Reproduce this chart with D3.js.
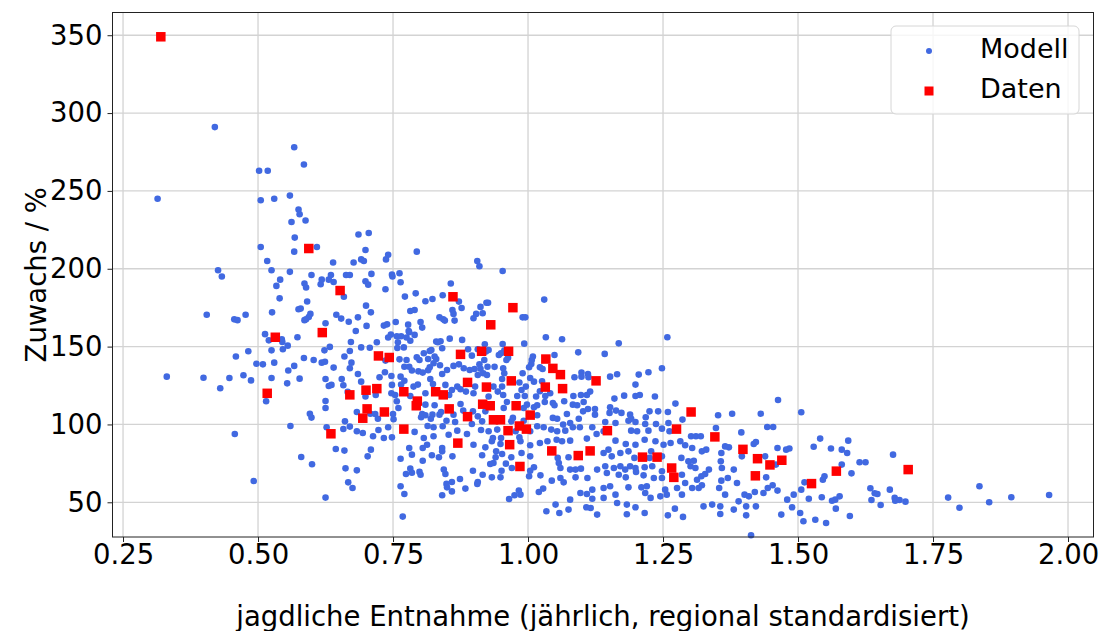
<!DOCTYPE html>
<html>
<head>
<meta charset="utf-8">
<script src="https://cdn.jsdelivr.net/npm/d3@7"></script>
<style>
  html, body { margin: 0; padding: 0; background: #ffffff; }
  svg { display: block; }
  text { font-family: "DejaVu Sans", sans-serif; fill: #000; }
</style>
</head>
<body>
<svg id="chart" width="1101" height="631"></svg>
<script>
// Model simulation: [harvest (standardised), growth %]
const modell = [
  [0.420,291],[0.567,278],[0.585,267],[0.502,263],[0.518,263],[0.314,245],[0.505,244],[0.530,245],[0.559,247],[0.575,238],[0.577,235],[0.562,230],[0.588,231],[0.568,220],[0.505,214],[0.567,211],[0.609,214],
  [0.686,222],[0.705,223],[0.699,212],[0.741,209],[0.794,211],[0.691,206],[0.696,205],[0.737,206],[0.906,205],
  [0.517,205],[0.639,204],[0.677,204],[0.426,199],[0.433,195],[0.525,199],[0.559,198],[0.541,193],[0.599,196],[0.618,193],[0.616,190],[0.631,193],[0.635,196],[0.640,191.5],[0.663,196],[0.670,196],[0.534,189],[0.586,190.5],[0.589,188],[0.659,182],[0.540,181],[0.591,179],[0.575,174],[0.579,174.4],[0.526,172],[0.405,170.5],[0.456,167.5],[0.462,167],[0.477,170.5],[0.597,171],[0.594,169],[0.589,167.5],[0.586,167],[0.645,170.5],[0.654,168],[0.625,165],[0.668,166],[0.681,160],[0.513,158],[0.520,154],[0.544,154.7],[0.545,153],[0.555,150.6],[0.546,148.3],[0.573,156],[0.672,153],[0.633,149.8],[0.623,147.6],[0.670,147.2],[0.525,147.6],[0.482,147],[0.459,143.6],[0.585,142.7],[0.603,141.4],[0.618,139.7],[0.624,140.3],[0.660,143.6],[0.673,139.7],[0.497,139],[0.509,138.6],[0.530,139.7],[0.567,137.6],[0.556,134.6],[0.640,136.5],[0.670,136.1],[0.331,130.7],[0.399,130],[0.447,129.8],[0.473,131.6],[0.487,128.3],[0.525,129.8],[0.577,129.4],[0.625,129.2],[0.655,129.2],[0.554,126.4],[0.636,125.4],[0.631,124.7],[0.658,125.2],[0.430,123.2],[0.666,120.9],
  [0.515,114.9],[0.625,115.1],[0.625,110.6],[0.596,106.9],[0.599,104.4],[0.560,99],[0.627,98.2],[0.661,102],[0.658,97.1],[0.670,98.6],[0.683,95.6],[0.683,108],[0.457,93.9],[0.644,84.2],[0.660,83.2],[0.580,79.1],[0.600,74.4],[0.662,71.8],[0.683,70.5],[0.492,63.7],[0.667,62.8],[0.675,59.2],[0.625,53],
  [0.910,201.6],[0.710,196.7],[0.748,196.2],[0.749,195],[0.762,197.1],[0.764,191.3],[0.699,192],[0.704,189.8],[0.953,198.6],[0.857,190.5],[0.736,186.8],[0.772,182.1],[0.792,184.2],[0.842,183],[0.872,178.9],[0.877,174.8],[0.810,179.1],[0.823,180.6],[0.700,176.3],[0.709,172],[0.685,168.8],[0.782,172.9],[0.790,173.5],[0.860,173.5],[0.862,171],[0.864,166.7],[0.836,168.8],[0.843,167.5],[0.846,166.7],[0.923,178.2],[0.926,178.2],[0.912,175.5],[0.904,171],[0.916,171.4],[0.899,168.2],[0.990,168.8],[0.995,168.8],[1.030,180.2],[0.755,165.8],[0.739,164.3],[0.733,163.5],[0.701,163.3],[0.778,164.1],[0.801,165.8],[0.804,162.2],[0.779,160],[0.780,159.2],[0.746,157.7],[0.741,155.8],[0.757,156.6],[0.765,156.6],[0.775,155.8],[0.790,157.5],[0.759,152.8],[0.720,152.8],[0.782,153.8],[0.830,153.2],[0.838,153.4],[0.833,152.8],[0.855,155.1],[0.878,154.3],[0.920,151.5],[0.953,151.7],[0.993,151.9],[1.033,156],[1.063,154.7],[0.691,149.5],[0.707,149.3],[0.758,149.1],[0.770,149.5],[0.818,147.2],[0.841,148.9],[0.889,148.3],[0.907,148.3],[0.927,147.8],[0.950,145.7],[0.956,147.4],[1.093,146.3],
  [0.736,141],[0.775,141.4],[0.762,141.8],[0.794,143.1],[0.799,141.4],[0.807,145.7],[0.815,142],[0.827,143.6],[0.830,142],[0.821,147.8],[0.896,144.2],[0.919,141.4],[0.922,146.8],[0.960,141.4],[0.963,142.9],[0.946,144.6],[1.009,143.6],[1.007,141.4],[1.049,144.6],[1.006,138.8],[1.002,136.7],[1.022,136.7],[1.027,135.6],[1.099,133.3],[1.111,132.4],[1.086,130.3],[1.099,130.7],[1.112,130.3],[0.771,137.1],[0.780,137.1],[0.785,134.6],[0.797,134.1],[0.805,133.3],[0.815,134.8],[0.818,136.7],[0.825,139.3],[0.837,138],[0.850,135],[0.841,132.4],[0.862,137.6],[0.872,138.6],[0.881,136.1],[0.892,135],[0.901,135.6],[0.910,138.6],[0.925,137.1],[0.938,137],[0.912,135.8],[0.917,132.9],[0.907,131.8],[0.924,131.8],[0.954,136.1],[0.956,132.9],[0.952,129.2],[0.990,132.9],[1.004,129.8],[1.011,127.5],[1.026,127.7],[0.685,132.4],[0.691,127.5],[0.725,130.3],[0.735,133.5],[0.747,131.1],[0.764,130.7],[0.771,128.1],[0.748,125.4],[0.765,125.6],[0.788,124.3],[0.796,125.6],[0.819,129.2],[0.824,126],[0.847,125.4],[0.859,122.1],[0.869,124.3],[0.875,122.6],[0.885,121.1],[0.902,124.3],[0.936,124.3],[0.944,121.1],[0.952,124.3],[0.984,126.9],[0.988,122.1],[0.996,124.3],[1.022,121.3],[1.041,120],[1.084,118.3],[1.098,118.9],[1.109,118.9],[1.115,121.1],[0.718,118.9],[0.747,120],[0.754,118.9],[0.782,118.3],[0.810,120],[0.854,118.9],[0.899,120],[0.927,117.9],[0.954,118.9],[0.980,118.3],[0.994,118.3],[1.015,117.9],[1.032,118.3],[0.699,117.9],
  [1.168,152.1],[1.258,156],[1.142,145.3],[1.152,130.7],[1.165,132.2],[1.205,132],[1.223,133.5],[1.248,136.1],[1.199,125.6],[1.160,116.6],[1.178,118.5],[1.199,118.3],[1.207,118.9],[1.235,117.9],[1.463,115.7],
  [0.708,106.9],[0.717,106.7],[0.722,103.7],[0.757,114.9],[0.760,110.6],[0.750,106.7],[0.751,103.3],[0.810,112.7],[0.804,106.7],[0.810,105.9],[0.802,104.6],[0.827,112.3],[0.823,106.3],[0.820,103.7],[0.836,106.3],[0.839,108],[0.849,102.4],[0.862,106.3],[0.865,101.6],[0.875,113.1],[0.880,108.9],[0.898,108.4],[0.907,105.2],[0.915,102],[0.921,108.4],[0.955,110.6],[0.961,114.4],[0.969,102],[0.972,104.2],[0.992,110.6],[0.998,112.7],[1.011,111],[1.017,112.3],[1.017,105.9],[1.031,114.4],[1.046,113.8],[1.049,112.3],[1.046,104.2],[1.054,103.7],[1.067,114.9],[1.072,106.7],[1.083,112.7],[1.091,112.3],[1.103,114.4],[1.102,108.4],[1.111,109.9],[1.124,109.9],[1.124,106.3],[1.094,103.7],[1.078,100.9],[1.065,99.9],
  [0.694,94.5],[0.713,92.4],[0.723,96.4],[0.733,91.3],[0.741,98.2],[0.748,91.7],[0.790,95.2],[0.807,91.3],[0.814,99],[0.825,98.2],[0.825,92.4],[0.842,98.8],[0.853,93.4],[0.869,96],[0.887,93.9],[0.896,100.3],[0.913,96.4],[0.927,95.6],[0.935,91.3],[0.943,96.7],[0.950,91.3],[0.977,95.6],[0.984,91.7],[0.992,102.4],[1.004,95.6],[1.017,98.8],[1.029,98.2],[1.043,96.7],[1.054,95.6],[1.069,96],[1.083,98.2],[1.096,98.2],[1.119,98.2],[1.127,93.9],[1.109,90.9],[1.036,89.2],[1.053,90.2],[1.063,89.2],[1.078,89.6],[1.022,88.1],[1.004,86.6],[0.986,89.2],[0.949,87.4],[0.933,89.2],[0.921,85.3],[0.899,87],[0.709,83.8],[0.780,84.9],[0.805,84.9],[0.813,87],[0.841,84.9],[0.841,82.7],[0.860,79.5],[0.835,78.9],[0.822,80.2],[0.785,80.6],[0.703,79.5],[0.764,78],[0.805,76.7],[0.915,80.2],[0.941,82.7],[0.940,78.9],[0.952,81],[0.969,78.9],[0.988,81.7],[1.004,79.5],[1.055,78.5],[1.075,78.9],[1.057,75.2],[1.060,72],[1.078,71],[1.088,71],[1.098,71.6],[1.128,71],[0.936,75.2],[0.930,74.6],[0.959,74.8],[0.970,72],[0.951,70.3],[0.933,66],[0.949,66],[1.004,70.3],[1.011,72.5],[1.002,66.7],[1.023,67.3],[1.044,63.9],[1.066,62.8],[1.060,65.6],[1.088,66],[1.110,65.6],[1.119,58.1],[1.097,56],[1.109,55.3],[1.078,51.7],[1.119,52.3],[1.108,46.8],[1.116,46.3],[1.128,42.1],[1.075,45.3],[1.058,43.1],[1.034,44.2],[1.051,48.5],[1.020,56.6],[1.028,58.8],[0.983,57.5],[0.986,54.9],[0.975,54.5],[0.965,52.1],[0.916,67.7],[0.898,70.3],[0.907,63],[0.906,61.8],[0.884,58.8],[0.874,65],[0.859,63],[0.859,57],[0.849,61.8],[0.850,59.6],[0.841,54.5],[0.844,71],[0.847,68.2],[0.799,69.5],[0.801,67.7],[0.782,71.6],[0.785,69],[0.774,68.2],[0.764,60.3],[0.771,55.3],[0.768,40.8],
  [1.273,113.4],[1.152,111],[1.151,107.4],[1.163,108.9],[1.173,107.4],[1.189,106.3],[1.191,103.7],[1.199,101.6],[1.218,104.6],[1.225,108.4],[1.241,108.4],[1.259,108],[1.286,103.1],[1.352,105.9],[1.378,106.9],[1.431,106.9],[1.506,107.8],[1.143,101.6],[1.162,100.9],[1.186,102.4],[1.217,100.3],[1.237,100.3],[1.260,100.9],[1.140,95.6],
  [1.191,96],[1.202,95.6],[1.223,96],[1.248,97.3],[1.262,95.6],[1.302,92.4],[1.311,92.4],[1.320,92.4],[1.348,97.7],[1.395,94.9],[1.443,98.4],[1.454,98.4],[1.162,89.6],[1.181,87.4],[1.199,87],[1.216,90.2],[1.236,89.2],[1.251,87],[1.264,88.1],[1.282,89.2],[1.291,86.6],[1.304,84.9],[1.322,82.7],[1.330,83.8],[1.365,85.9],[1.372,85.3],[1.418,87.4],[1.422,88.7],[1.462,84.9],[1.478,83.8],[1.484,84.5],[1.529,85.7],[1.541,90.9],[1.561,84.5],[1.581,83.8],[1.149,83.8],[1.140,81.7],[1.155,79.5],[1.171,81.7],[1.186,82.7],[1.197,78.5],[1.228,82.7],[1.225,78.5],[1.248,79.5],[1.284,78.5],[1.297,76.3],[1.307,76.7],[1.358,81.7],[1.357,76.3],[1.396,79.5],[1.439,79.5],[1.143,73.1],[1.159,72],[1.171,73.1],[1.180,71],[1.189,73.1],[1.199,72],[1.216,72.5],[1.230,73.1],[1.248,69.9],[1.301,73.1],[1.310,72],[1.335,71],[1.359,72],[1.381,71],[1.459,74.2],[1.581,74.2],[1.146,68.8],[1.168,67.7],[1.181,66],[1.200,69.5],[1.214,67.3],[1.233,65.6],[1.248,65.6],[1.285,67.7],[1.291,62.4],[1.313,64.5],[1.321,66.7],[1.328,68.2],[1.358,63.9],[1.370,65.6],[1.387,62.4],[1.441,66],[1.512,62.8],[1.546,64.5],[1.549,66.7],[1.140,59.2],[1.152,60.3],[1.162,54.9],[1.186,59.6],[1.210,59.6],[1.220,60.3],[1.217,56],[1.227,52.8],[1.254,58.1],[1.257,54.9],[1.276,59.2],[1.285,54.9],[1.304,59.2],[1.316,59.2],[1.322,60.9],[1.354,59.2],[1.365,54.9],[1.401,54.9],[1.409,53.8],[1.420,56.6],[1.436,56],[1.444,59.2],[1.453,60.9],[1.462,57.5],[1.492,54.9],[1.506,58.1],[1.544,53.2],[1.563,51],[1.569,51.7],[1.577,53.8],[1.140,52.8],[1.165,49.5],[1.183,48.5],[1.199,46.8],[1.245,53.8],[1.272,45.9],[1.259,41.6],[1.287,40.6],[1.216,43.1],[1.183,42.3],[1.325,47.4],[1.341,48.5],[1.356,47.4],[1.356,42.5],[1.381,45.3],[1.390,50.6],[1.404,47.4],[1.404,41.6],[1.422,47.4],[1.469,42.1],[1.480,51.7],[1.489,46.8],[1.504,43.1],[1.510,37.8],[1.520,52.3],[1.532,38.8],[1.552,36.7],[1.570,45.9],[1.413,28.8],
  [1.593,89.6],[1.591,81.7],[1.614,75.7],[1.625,75.7],[1.676,80.6],[1.599,68.6],[1.634,59],[1.642,55.8],[1.647,55.3],[1.636,51.5],[1.653,48.3],[1.670,58.1],[1.679,52.8],[1.680,51],[1.688,51.5],[1.699,50.4],[1.596,41.2],[1.778,53],[1.799,46.5],[1.836,60.3],[1.854,50],[1.895,53.2],[1.965,54.7]
];

// Observed regional data
const daten = [
  [0.320,349],[0.594,213],[0.652,186],[0.619,159],[0.532,156],[0.517,120],[0.670,119],[0.635,94],
  [0.861,182],[0.972,175],[0.931,164],[0.723,144],[0.743,143],[0.875,145],[0.914,147],[0.964,147],
  [1.033,142],[1.046,136],[1.060,132],[1.126,128],[0.888,127],[0.923,124],[0.969,128],[1.032,124],
  [1.064,123],[0.700,122],[0.720,123],[0.770,121],[0.795,115],[0.829,121],[0.843,119],[0.702,110],
  [0.694,104],[0.734,108],[0.793,112],[0.854,110],[0.888,105],[0.770,97],[0.870,88],[0.916,113],
  [0.930,112],[0.936,103],[0.949,103],[0.978,112],[0.963,96],[0.984,99],[0.997,97],[1.004,106],
  [0.966,87],[0.985,73],[1.044,83],[1.093,80],[1.115,83],[1.302,108],[1.147,96],[1.275,97],
  [1.346,92],[1.212,79],[1.239,79],[1.266,72],[1.270,66],[1.398,84],[1.425,78],[1.448,74],
  [1.470,77],[1.421,67],[1.525,62],[1.571,70],[1.704,71]
];

const xTicks = [0.25, 0.50, 0.75, 1.00, 1.25, 1.50, 1.75, 2.00];
const yTicks = [50, 100, 150, 200, 250, 300, 350];
const seriesNames = ["Modell", "Daten"];
const xLabel = "jagdliche Entnahme (jährlich, regional standardisiert)";
const yLabel = "Zuwachs / %";

const svg = d3.select("#chart");
const plot = { left: 112.5, right: 1093.5, top: 12.5, bottom: 537 };

const x = d3.scaleLinear().domain([0.2305, 2.0472]).range([plot.left, plot.right]);
const y = d3.scaleLinear().domain([27.7, 364.6]).range([plot.bottom, plot.top]);

// grid
const grid = svg.append("g");
grid.selectAll("line.gx").data(xTicks).join("line")
  .attr("x1", d => x(d)).attr("x2", d => x(d))
  .attr("y1", plot.top).attr("y2", plot.bottom)
  .attr("stroke", "#d3d3d3").attr("stroke-width", 1.3);
grid.selectAll("line.gy").data(yTicks).join("line")
  .attr("x1", plot.left).attr("x2", plot.right)
  .attr("y1", d => y(d)).attr("y2", d => y(d))
  .attr("stroke", "#d3d3d3").attr("stroke-width", 1.3);

// axes
const fmtX = d3.format(".2f");
const xAxis = svg.append("g")
  .attr("transform", `translate(0,${plot.bottom})`)
  .call(d3.axisBottom(x).tickValues(xTicks).tickFormat(fmtX).tickSize(5).tickPadding(2));
const yAxis = svg.append("g")
  .attr("transform", `translate(${plot.left},0)`)
  .call(d3.axisLeft(y).tickValues(yTicks).tickSize(5).tickPadding(5));
[xAxis, yAxis].forEach(a => {
  a.select(".domain").remove();
  a.selectAll(".tick line").attr("stroke", "#222").attr("stroke-width", 1);
  a.selectAll(".tick text").attr("font-size", 27.5).attr("font-family", "DejaVu Sans").attr("fill", "#000");
});

// model points
svg.append("g").selectAll("circle").data(modell).join("circle")
  .attr("cx", d => x(d[0])).attr("cy", d => y(d[1]))
  .attr("r", 3.3).attr("fill", "#4169e1");

// data squares
const sq = 9.5;
svg.append("g").selectAll("rect").data(daten).join("rect")
  .attr("x", d => x(d[0]) - sq / 2).attr("y", d => y(d[1]) - sq / 2)
  .attr("width", sq).attr("height", sq).attr("fill", "#ff0000");

// frame
svg.append("rect")
  .attr("x", plot.left).attr("y", plot.top)
  .attr("width", plot.right - plot.left).attr("height", plot.bottom - plot.top)
  .attr("fill", "none").attr("stroke", "#222").attr("stroke-width", 1);

// legend
const lg = svg.append("g").attr("transform", "translate(891,26)");
lg.append("rect").attr("width", 188).attr("height", 88).attr("rx", 5)
  .attr("fill", "#fff").attr("fill-opacity", 0.8)
  .attr("stroke", "#d6d6d6").attr("stroke-width", 1);
lg.append("circle").attr("cx", 38).attr("cy", 25).attr("r", 3).attr("fill", "#4169e1");
lg.append("rect").attr("x", 38 - 4.5).attr("y", 65 - 4.5).attr("width", 9).attr("height", 9).attr("fill", "#ff0000");
lg.selectAll("text").data(seriesNames).join("text")
  .attr("x", 89).attr("y", (d, i) => 32 + i * 40)
  .attr("font-size", 27).text(d => d);

// axis titles
svg.append("text")
  .attr("x", (plot.left + plot.right) / 2).attr("y", 626)
  .attr("text-anchor", "middle").attr("font-size", 27.5).text(xLabel);
svg.append("text")
  .attr("transform", `translate(46,${(plot.top + plot.bottom) / 2}) rotate(-90)`)
  .attr("text-anchor", "middle").attr("font-size", 27.5).text(yLabel);
</script>
</body>
</html>
